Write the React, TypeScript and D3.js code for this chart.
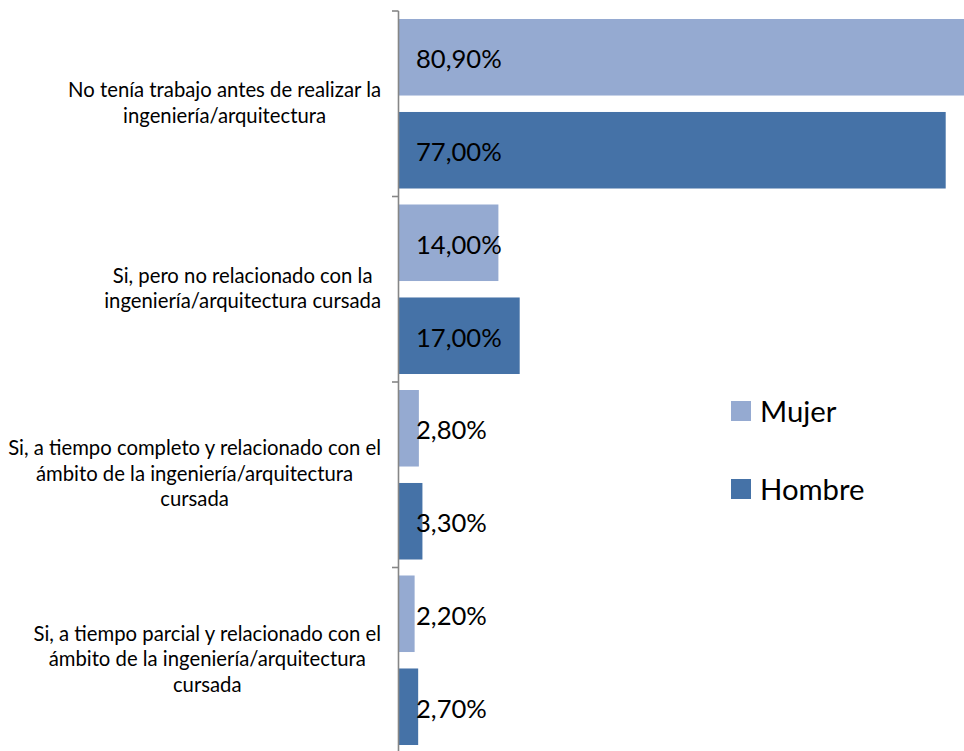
import React, { useEffect, useRef } from "react";
import * as d3 from "d3";

const categories = [
  "No tenía trabajo antes de realizar la ingeniería/arquitectura",
  "Si, pero no relacionado con la ingeniería/arquitectura cursada",
  "Si, a tiempo completo y relacionado con el ámbito de la ingeniería/arquitectura cursada",
  "Si, a tiempo parcial y relacionado con el ámbito de la ingeniería/arquitectura cursada",
];
const categoryLines = [
  ["No tenía trabajo antes de realizar la", "ingeniería/arquitectura"],
  ["Si, pero no relacionado con la", "ingeniería/arquitectura cursada"],
  ["Si, a tiempo completo y relacionado con el", "ámbito de la ingeniería/arquitectura", "cursada"],
  ["Si, a tiempo parcial y relacionado con el", "ámbito de la ingeniería/arquitectura", "cursada"],
];
const seriesNames = ["Mujer", "Hombre"];
const mujer = [80.9, 14.0, 2.8, 2.2];
const hombre = [77.0, 17.0, 3.3, 2.7];
const labelsMujer = ["80,90%", "14,00%", "2,80%", "2,20%"];
const labelsHombre = ["77,00%", "17,00%", "3,30%", "2,70%"];
const colors = ["#95AAD1", "#4572A7"];

const W = 964;
const H = 751;

export default function App() {
  const ref = useRef<SVGSVGElement>(null);
  useEffect(() => {
    const svg = d3.select(ref.current);
    svg.selectAll("*").remove();
    const x0 = 399;
    const x = d3.scaleLinear().domain([0, 80]).range([x0, x0 + 80 * 7.1]);
    const y = d3.scaleBand<string>().domain(categories).range([11, 753]).paddingInner(0).paddingOuter(0);
    const yi = d3.scaleBand<string>().domain(seriesNames).range([0, y.bandwidth()]).paddingInner(0.177).paddingOuter(0.086);
    const font = "Lato, 'Open Sans', sans-serif";
    const series = [
      { name: seriesNames[0], vals: mujer, labels: labelsMujer, color: colors[0] },
      { name: seriesNames[1], vals: hombre, labels: labelsHombre, color: colors[1] },
    ];
    const g = svg.append("g");
    series.forEach((s) => {
      categories.forEach((c, i) => {
        const yy = (y(c) as number) + (yi(s.name) as number);
        g.append("rect")
          .attr("x", x(0))
          .attr("y", yy)
          .attr("width", x(s.vals[i]) - x(0))
          .attr("height", yi.bandwidth())
          .attr("fill", s.color);
      });
    });
    // axis
    const ax = svg.append("g");
    ax.append("line")
      .attr("x1", x(0) - 0.5).attr("x2", x(0) - 0.5)
      .attr("y1", 11).attr("y2", 753)
      .attr("stroke", "#868686").attr("stroke-width", 1.6);
    const tickYs = categories.map((c) => y(c) as number).concat([753]);
    tickYs.forEach((ty) => {
      ax.append("line")
        .attr("x1", x(0) - 7).attr("x2", x(0) - 0.5)
        .attr("y1", ty).attr("y2", ty)
        .attr("stroke", "#868686").attr("stroke-width", 1.6);
    });
    // data labels
    series.forEach((s) => {
      categories.forEach((c, i) => {
        const yy = (y(c) as number) + (yi(s.name) as number) + yi.bandwidth() / 2 + 2;
        svg.append("text")
          .attr("x", x(0) + 17)
          .attr("y", yy)
          .attr("dy", "0.35em")
          .attr("font-family", font)
          .attr("font-size", 25.6)
          .attr("fill", "#000")
          .text(s.labels[i]);
      });
    });
    // category labels
    const lh = 25.5;
    categories.forEach((c, i) => {
      const lines = categoryLines[i];
      const t = svg.append("text")
        .attr("font-family", font)
        .attr("font-size", 20.3)
        .attr("fill", "#000")
        .attr("text-anchor", "middle");
      const cy = (y(c) as number) + y.bandwidth() / 2 - 1;
      const startY = cy - ((lines.length - 1) * lh) / 2;
      const spans = lines.map((l, j) =>
        t.append("tspan").attr("y", startY + j * lh).attr("dy", "0.35em").text(l)
      );
      const maxW = d3.max(spans, (sp) => (sp.node() as SVGTSpanElement).getComputedTextLength()) || 0;
      const cx = 381 - maxW / 2;
      spans.forEach((sp) => sp.attr("x", cx));
    });
    // legend
    series.forEach((s, i) => {
      const ly = 411 + i * 78;
      svg.append("rect").attr("x", 731).attr("y", ly - 10).attr("width", 20).attr("height", 20).attr("fill", s.color);
      svg.append("text")
        .attr("x", 760).attr("y", ly + 1).attr("dy", "0.35em")
        .attr("font-family", font).attr("font-size", 29.3).attr("fill", "#000")
        .text(s.name);
    });
  }, []);
  return (
    <svg
      ref={ref}
      width={W}
      height={H}
      style={{ position: "absolute", left: 0, top: 0, background: "#fff" }}
    />
  );
}
